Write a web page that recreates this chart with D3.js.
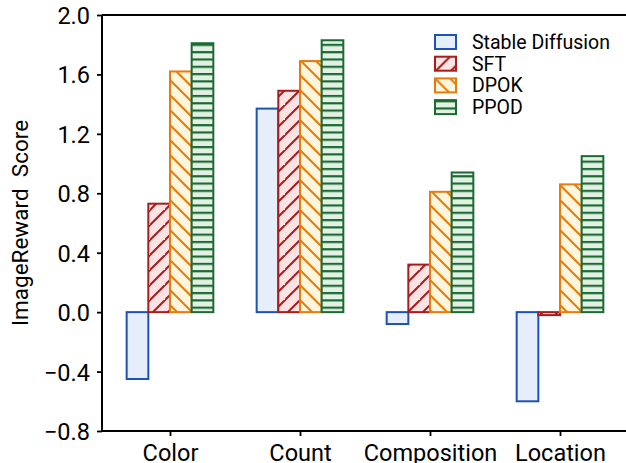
<!DOCTYPE html>
<html>
<head>
<meta charset="utf-8">
<script src="https://cdn.jsdelivr.net/npm/d3@7"></script>
<style>
  body { margin: 0; background: #fff; }
  svg { display: block; font-family: Roboto, "Liberation Sans", sans-serif; }
</style>
</head>
<body>
<svg id="chart" width="626" height="463"></svg>
<script>
const categories = ['Color', 'Count', 'Composition', 'Location'];
const methods = ['Stable Diffusion', 'SFT', 'DPOK', 'PPOD'];
const sdScores = [-0.45, 1.37, -0.08, -0.60];
const sftScores = [0.73, 1.49, 0.32, -0.02];
const dpokScores = [1.62, 1.69, 0.81, 0.86];
const ppodScores = [1.81, 1.83, 0.94, 1.05];
const yTicks = [-0.8, -0.4, 0.0, 0.4, 0.8, 1.2, 1.6, 2.0];

const series = [sdScores, sftScores, dpokScores, ppodScores];
const edges = ['#1f52b3', '#a81c1c', '#e77c0a', '#1c6a33'];
const fills = ['#e7eefb', '#fde3e3', '#fef5de', '#e3f1e5'];
const hatches = ['none', 'fwd', 'back', 'horiz'];

const svg = d3.select('#chart');
const plotL = 102, plotR = 628, plotT = 15, plotB = 431;

const x = d3.scaleLinear().domain([-0.523, 3.523]).range([plotL, plotR]);
const y = d3.scaleLinear().domain([-0.8, 2.0]).range([plotB, plotT]);
const barW = 1 / 6;

// hatch patterns
const defs = svg.append('defs');
function addPattern(id, kind, color) {
	const p = defs.append('pattern')
		.attr('id', id)
		.attr('patternUnits', 'userSpaceOnUse');
	if (kind === 'fwd' || kind === 'back') {
		p.attr('width', 15).attr('height', 15);
		const d = kind === 'fwd'
			? 'M-2,17 L17,-2 M-17,17 L2,-2 M13,32 L32,13'
			: 'M-2,-2 L17,17 M-17,-2 L2,17 M13,-2 L32,17';
		p.append('path').attr('d', d)
			.attr('stroke', color).attr('stroke-width', 2).attr('fill', 'none');
	} else if (kind === 'horiz') {
		p.attr('width', 10).attr('height', 7.3);
		p.append('rect').attr('x', 0).attr('y', 0).attr('width', 10).attr('height', 2.2)
			.attr('fill', color);
	}
}
methods.forEach((m, k) => {
	if (hatches[k] !== 'none') addPattern('h' + k, hatches[k], edges[k]);
});

const plot = svg.append('g');

methods.forEach((m, k) => {
	const g = plot.append('g');
	const data = series[k].map((v, i) => ({ i, v }));
	const bx = d => x(d.i + (k - 2) * barW);
	const bw = x(barW) - x(0);
	const by = d => Math.min(y(d.v), y(0));
	const bh = d => Math.abs(y(d.v) - y(0));
	g.selectAll('rect.fill').data(data).enter().append('rect')
		.attr('x', bx).attr('y', by).attr('width', bw).attr('height', bh)
		.attr('fill', fills[k]);
	if (hatches[k] !== 'none') {
		g.selectAll('rect.hatch').data(data).enter().append('rect')
			.attr('x', bx).attr('y', by).attr('width', bw).attr('height', bh)
			.attr('fill', `url(#h${k})`);
	}
	g.selectAll('rect.edge').data(data).enter().append('rect')
		.attr('x', bx).attr('y', by).attr('width', bw).attr('height', bh)
		.attr('fill', 'none').attr('stroke', edges[k]).attr('stroke-width', 2);
});

// axes
const yAxis = d3.axisLeft(y).tickValues(yTicks).tickFormat(d3.format('.1f')).tickSize(5).tickPadding(7);
const gy = svg.append('g').attr('transform', `translate(${plotL},0)`).call(yAxis);
gy.select('.domain').remove();
gy.selectAll('line').attr('stroke', '#000').attr('stroke-width', 1.8);
gy.selectAll('text').attr('font-size', 23.5).attr('font-family', 'Roboto').attr('fill', '#000').attr('dy', '0.36em');

const xAxis = d3.axisBottom(x).tickValues(d3.range(categories.length))
	.tickFormat(i => categories[i]).tickSize(5).tickPadding(8);
const gx = svg.append('g').attr('transform', `translate(0,${plotB})`).call(xAxis);
gx.select('.domain').remove();
gx.selectAll('line').attr('stroke', '#000').attr('stroke-width', 1.8);
gx.selectAll('text').attr('font-size', 23.5).attr('font-family', 'Roboto').attr('fill', '#000').attr('dy', '0.71em');

// spines
const spines = svg.append('g').attr('stroke', '#000').attr('stroke-width', 2).attr('fill', 'none');
spines.append('line').attr('x1', plotL).attr('x2', plotL).attr('y1', plotT).attr('y2', plotB);
spines.append('line').attr('x1', plotL).attr('x2', plotR).attr('y1', plotT).attr('y2', plotT);
spines.append('line').attr('x1', plotL).attr('x2', plotR).attr('y1', plotB).attr('y2', plotB);
spines.append('line').attr('x1', plotR).attr('x2', plotR).attr('y1', plotT).attr('y2', plotB);

// y label
svg.append('text')
	.attr('transform', `translate(28,${(113 + 333) / 2}) rotate(-90)`)
	.attr('text-anchor', 'middle')
	.attr('font-size', 22.5)
	.attr('fill', '#000')
	.style('white-space', 'pre')
	.text('ImageReward  Score');

// legend
const legend = svg.append('g').attr('transform', 'translate(435,35)');
methods.forEach((m, k) => {
	const row = legend.append('g').attr('transform', `translate(0,${k * 21.7})`);
	row.append('rect').attr('width', 21).attr('height', 14).attr('fill', fills[k]);
	if (hatches[k] !== 'none') {
		row.append('rect').attr('width', 21).attr('height', 14).attr('fill', `url(#h${k})`);
	}
	row.append('rect').attr('width', 21).attr('height', 14)
		.attr('fill', 'none').attr('stroke', edges[k]).attr('stroke-width', 2);
	row.append('text').attr('x', 37).attr('y', 7).attr('dy', '0.36em')
		.attr('font-size', 19.5).attr('fill', '#000').text(m);
});
</script>
</body>
</html>
